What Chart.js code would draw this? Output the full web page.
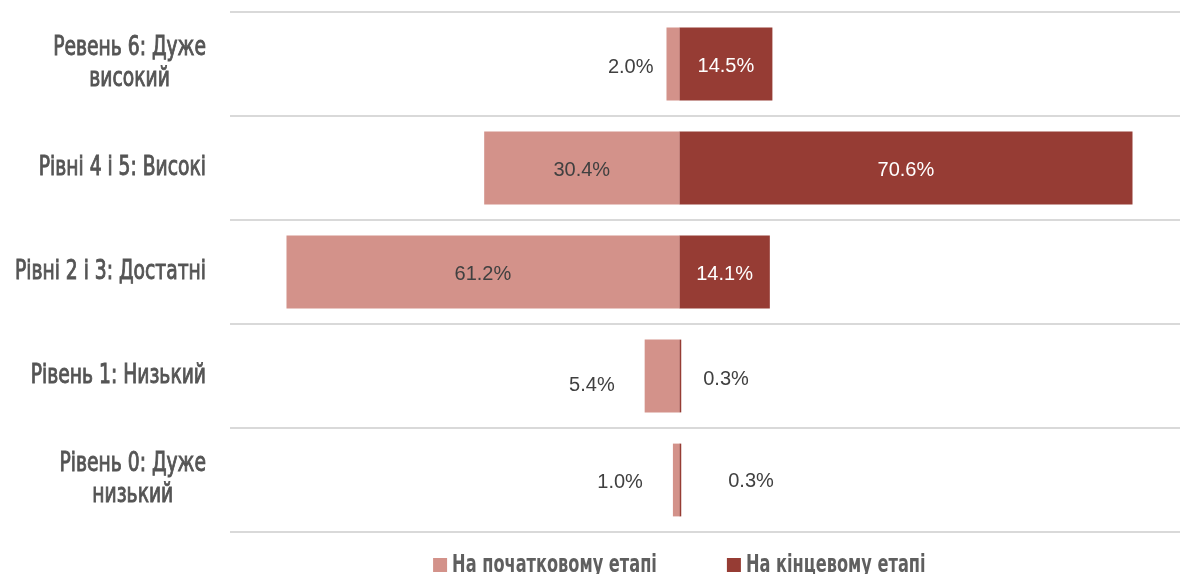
<!DOCTYPE html>
<html>
<head>
<meta charset="utf-8">
<title>Рівні</title>
<script src="https://cdn.jsdelivr.net/npm/chart.js@4.4.0/dist/chart.umd.min.js"></script>
<style>
  html, body { margin: 0; padding: 0; background: #fff; }
  #wrap { width: 1180px; height: 574px; position: relative; }
</style>
</head>
<body>
<div id="wrap"><canvas id="levelsChart"></canvas></div>
<script>
var levelLabels = [
  ['Ревень 6: Дуже', 'високий'],
  'Рівні 4 і 5: Високі',
  'Рівні 2 і 3: Достатні',
  'Рівень 1: Низький',
  ['Рівень 0: Дуже', 'низький']
];
var startValues = [2.0, 30.4, 61.2, 5.4, 1.0];   // на початковому етапі, %
var endValues = [14.5, 70.6, 14.1, 0.3, 0.3];    // на кінцевому етапі, %
var seriesNames = ['На початковому етапі', 'На кінцевому етапі'];

var lightRed = '#D3928A';
var darkRed = '#963C34';
var condFont = '"DejaVu Sans Condensed", "DejaVu Sans", sans-serif';

// labels that don't fit in their bar sit outside it; gap from the bar end, px
var outsideGap = [
  [13, 12, 12, 30, 30],
  [12, 12, 12, 22, 47]
];
var outsideLift = [
  [2, 0, 0, 8, 1],
  [0, 0, 0, 2, 0]
];

// initial stage goes to the left of zero
var leftValues = startValues.map(function(v) { return -v; });

// no narrow font installed, so the condensed one gets squeezed sideways;
// an optional thin outline thickens regular weight a little
function narrowText(ctx, text, x, y, squeeze, thicken) {
  ctx.save();
  ctx.translate(x, y);
  ctx.scale(squeeze, 1);
  ctx.fillText(text, 0, 0);
  if (thicken) {
    ctx.strokeStyle = ctx.fillStyle;
    ctx.lineWidth = thicken;
    ctx.strokeText(text, 0, 0);
  }
  ctx.restore();
}

var categoryLabelsPlugin = {
  id: 'categoryLabels',
  afterDraw: function(chart) {
    var ctx = chart.ctx;
    var yScale = chart.scales.y;
    var rightEdge = 206;
    var lineH = 31;
    var sq = 0.8;
    ctx.save();
    ctx.font = '26px ' + condFont;
    ctx.fillStyle = '#555555';
    ctx.textAlign = 'center';
    ctx.textBaseline = 'middle';
    chart.data.labels.forEach(function(lbl, i) {
      var lines = Array.isArray(lbl) ? lbl : [lbl];
      var widest = 0;
      lines.forEach(function(l) { widest = Math.max(widest, ctx.measureText(l).width * sq); });
      var cx = rightEdge - widest / 2;
      var y = yScale.getPixelForTick(i);
      lines.forEach(function(l, j) {
        narrowText(ctx, l, cx, y + (j - (lines.length - 1) / 2) * lineH, sq, 0.9);
      });
    });
    ctx.restore();
  }
};

var valueLabelsPlugin = {
  id: 'valueLabels',
  afterDatasetsDraw: function(chart) {
    var ctx = chart.ctx;
    ctx.save();
    ctx.font = '20px "Liberation Sans", Arial, sans-serif';
    ctx.textBaseline = 'middle';
    chart.data.datasets.forEach(function(ds, di) {
      var meta = chart.getDatasetMeta(di);
      meta.data.forEach(function(bar, i) {
        var v = Math.abs(ds.data[i]);
        var text = v.toFixed(1) + '%';
        var tw = ctx.measureText(text).width;
        var left = Math.min(bar.x, bar.base);
        var right = Math.max(bar.x, bar.base);
        if (right - left > tw + 12) {
          ctx.textAlign = 'center';
          ctx.fillStyle = di === 1 ? '#FFFFFF' : '#404040';
          ctx.fillText(text, (left + right) / 2, bar.y + 2);
        } else {
          ctx.fillStyle = '#404040';
          var y = bar.y + 1 + outsideLift[di][i];
          if (di === 0) {
            ctx.textAlign = 'right';
            ctx.fillText(text, left - outsideGap[di][i], y);
          } else {
            ctx.textAlign = 'left';
            ctx.fillText(text, right + outsideGap[di][i], y);
          }
        }
      });
    });
    ctx.restore();
  }
};

var bottomLegendPlugin = {
  id: 'bottomLegend',
  afterDraw: function(chart) {
    var ctx = chart.ctx;
    var box = 14, boxGap = 5, itemGap = 70;
    var y = 565;
    var sq = 0.75;
    ctx.save();
    ctx.font = 'bold 24px ' + condFont;
    ctx.textBaseline = 'middle';
    ctx.textAlign = 'left';
    var items = chart.data.datasets.map(function(ds) {
      return { text: ds.label, color: ds.backgroundColor, w: ctx.measureText(ds.label).width * sq };
    });
    var total = 0;
    items.forEach(function(it, k) {
      total += box + boxGap + it.w + (k < items.length - 1 ? itemGap : 0);
    });
    var x = chart.scales.x.getPixelForValue(0) - total / 2;
    items.forEach(function(it) {
      ctx.fillStyle = it.color;
      ctx.fillRect(x, y - box / 2, box, box);
      ctx.fillStyle = '#5F5F5F';
      narrowText(ctx, it.text, x + box + boxGap, y + 1, sq, 0);
      x += box + boxGap + it.w + itemGap;
    });
    ctx.restore();
  }
};

var ctx = document.getElementById('levelsChart');
var levelsChart = new Chart(ctx, {
  type: 'bar',
  data: {
    labels: levelLabels,
    datasets: [
      { label: seriesNames[0], data: leftValues, backgroundColor: lightRed },
      { label: seriesNames[1], data: endValues, backgroundColor: darkRed }
    ]
  },
  options: {
    indexAxis: 'y',
    responsive: true,
    maintainAspectRatio: false,
    animation: false,
    datasets: {
      bar: { barPercentage: 0.7, categoryPercentage: 1.0, borderWidth: 0 }
    },
    layout: { padding: { top: 12, bottom: 42, left: 0, right: 0 } },
    scales: {
      x: {
        stacked: true,
        display: false,
        min: -70,
        max: 78
      },
      y: {
        stacked: true,
        offset: true,
        ticks: { display: false },
        border: { display: false },
        grid: {
          offset: true,
          color: '#D9D9D9',
          lineWidth: 2,
          drawTicks: false
        },
        afterFit: function(scale) { scale.width = 230; }
      }
    },
    plugins: {
      legend: { display: false },
      tooltip: { enabled: false }
    }
  },
  plugins: [categoryLabelsPlugin, valueLabelsPlugin, bottomLegendPlugin]
});
</script>
</body>
</html>
